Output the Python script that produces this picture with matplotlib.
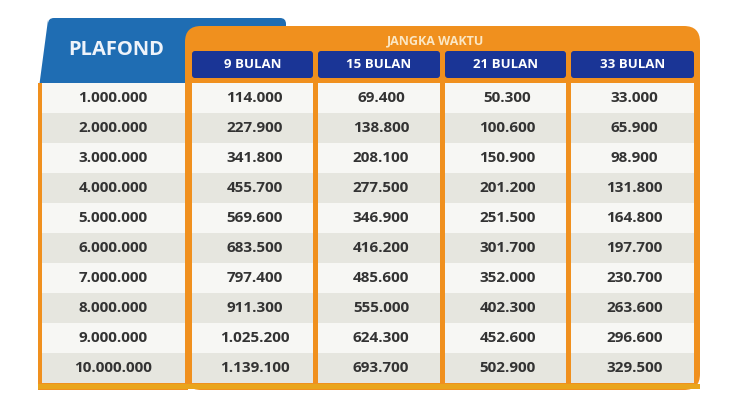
import matplotlib
matplotlib.use('Agg')
import matplotlib.pyplot as plt
from matplotlib.patches import FancyBboxPatch, Rectangle, Polygon

plafond = ['1.000.000', '2.000.000', '3.000.000', '4.000.000', '5.000.000',
           '6.000.000', '7.000.000', '8.000.000', '9.000.000', '10.000.000']
tenors = ['9 BULAN', '15 BULAN', '21 BULAN', '33 BULAN']
bulan_9 = ['114.000', '227.900', '341.800', '455.700', '569.600',
           '683.500', '797.400', '911.300', '1.025.200', '1.139.100']
bulan_15 = ['69.400', '138.800', '208.100', '277.500', '346.900',
            '416.200', '485.600', '555.000', '624.300', '693.700']
bulan_21 = ['50.300', '100.600', '150.900', '201.200', '251.500',
            '301.700', '352.000', '402.300', '452.600', '502.900']
bulan_33 = ['33.000', '65.900', '98.900', '131.800', '164.800',
            '197.700', '230.700', '263.600', '296.600', '329.500']
columns = [bulan_9, bulan_15, bulan_21, bulan_33]

orange = '#f0901e'
blue = '#1f6db3'
navy = '#1a3596'
txt = '#333333'
font = 'Open Sans'

fig = plt.figure(figsize=(7.4, 4.09), dpi=100)
ax = fig.add_axes([0, 0, 1, 1])
ax.set_xlim(0, 740)
ax.set_ylim(409, 0)
ax.axis('off')

# blue PLAFOND tab
ax.add_patch(FancyBboxPatch((48, 18), 238, 90, boxstyle='round,pad=0,rounding_size=6',
                            fc=blue, ec='none'))
ax.add_patch(Polygon([(48, 20), (38, 95), (48, 95)], fc=blue, ec='none'))
ax.text(116, 50, 'PLAFOND', ha='center', va='center', fontsize=14.5,
        fontweight='bold', color='#eef3fa', family=font)

# orange frame
ax.add_patch(FancyBboxPatch((185, 26), 515, 364, boxstyle='round,pad=0,rounding_size=16',
                            fc=orange, ec='none'))
ax.add_patch(Rectangle((38, 83), 150, 307, fc=orange, ec='none'))
ax.text(436, 41, 'JANGKA WAKTU', ha='center', va='center', fontsize=9,
        fontweight='bold', color='#fbe7c4', family=font)

top = 83
h = 30
col_x = [(192, 313), (318, 440), (445, 566), (571, 694)]
for i in range(len(plafond)):
    y0 = top + i * h
    fc = '#f7f7f4' if i % 2 == 0 else '#e6e6df'
    ax.add_patch(Rectangle((42, y0), 143, h, fc=fc, ec='none'))
    ax.text(113, y0 + h / 2, plafond[i], ha='center', va='center', fontsize=11,
            fontweight='bold', color=txt, family=font)
    for (x0, x1), col in zip(col_x, columns):
        ax.add_patch(Rectangle((x0, y0), x1 - x0, h, fc=fc, ec='none'))
        ax.text((x0 + x1) / 2 + 2, y0 + h / 2, col[i], ha='center', va='center',
                fontsize=11, fontweight='bold', color=txt, family=font)

# column headers
for (x0, x1), name in zip(col_x, tenors):
    ax.add_patch(FancyBboxPatch((x0, 51), x1 - x0, 27, boxstyle='round,pad=0,rounding_size=3',
                                fc=navy, ec='none'))
    ax.text((x0 + x1) / 2, 65, name, ha='center', va='center', fontsize=9.5,
            fontweight='bold', color='white', family=font)

# bottom shadow band
ax.add_patch(Rectangle((38, 384), 662, 5, fc='#e9a51c', ec='none'))

fig.savefig('out.png', dpi=100)
